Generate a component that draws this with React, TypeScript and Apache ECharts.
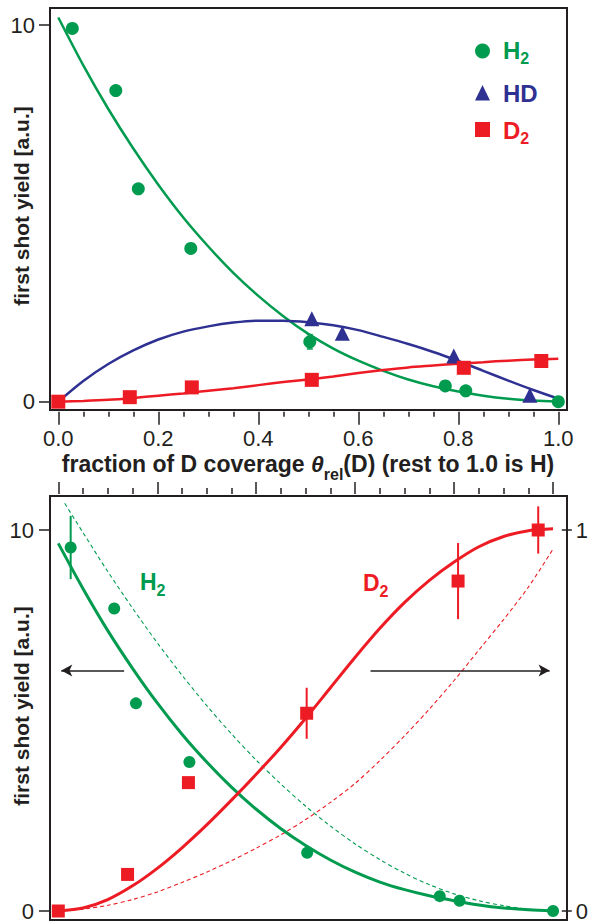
import React, { useEffect, useRef } from 'react';
import * as echarts from 'echarts';

const FONT = '"Liberation Sans", Arial, Helvetica, sans-serif';
const GREEN = '#009b4f';
const NAVY = '#2e3192';
const RED = '#ed1c24';
const INK = '#231f20';

// ---- shared x grid for fitted curves (fraction of D coverage) ----
const fitX = [0, 0.05, 0.1, 0.15, 0.2, 0.25, 0.3, 0.35, 0.4, 0.45, 0.5, 0.55, 0.6, 0.65, 0.7, 0.75, 0.8, 0.85, 0.9, 0.95, 1.0];

// ---- top panel: fitted curves ----
const h2FitTop = [10.2, 8.93, 7.77, 6.72, 5.76, 4.89, 4.12, 3.42, 2.81, 2.27, 1.8, 1.41, 1.09, 0.82, 0.59, 0.41, 0.27, 0.16, 0.08, 0.03, 0.0];
const hdFitTop = [0.0, 0.55, 1.0, 1.36, 1.65, 1.86, 2.0, 2.1, 2.15, 2.15, 2.11, 2.03, 1.9, 1.72, 1.53, 1.32, 1.08, 0.82, 0.56, 0.31, 0.08];
const d2FitTop = [0.0, 0.02, 0.05, 0.1, 0.16, 0.22, 0.29, 0.36, 0.44, 0.52, 0.59, 0.67, 0.76, 0.84, 0.91, 0.96, 1.01, 1.05, 1.09, 1.12, 1.14];

// ---- top panel: measured points ----
const h2TopX = [0.028, 0.115, 0.16, 0.265, 0.503, 0.774, 0.815, 1.0];
const h2TopY = [9.91, 8.26, 5.65, 4.07, 1.59, 0.42, 0.29, 0.0];
const h2TopErr = [0, 0, 0, 0, 0.19, 0, 0, 0];
const hdTopX = [0.507, 0.568, 0.791, 0.943];
const hdTopY = [2.2, 1.82, 1.21, 0.17];
const d2TopX = [0.0, 0.143, 0.267, 0.507, 0.811, 0.966];
const d2TopY = [0.0, 0.12, 0.38, 0.58, 0.9, 1.08];

// ---- bottom panel: curves (H2 on left axis 0..10, D2 on right axis 0..1) ----
const h2FitBot = [9.65, 8.46, 7.36, 6.37, 5.46, 4.64, 3.91, 3.25, 2.67, 2.16, 1.72, 1.34, 1.02, 0.76, 0.56, 0.4, 0.27, 0.16, 0.08, 0.03, 0.0];
const h2DashX = [0.013, 0.05, 0.1, 0.15, 0.2, 0.25, 0.3, 0.35, 0.4, 0.45, 0.5, 0.55, 0.6, 0.65, 0.7, 0.75, 0.8, 0.85, 0.9, 0.95, 1.0];
const h2DashY = [10.7, 9.93, 8.91, 7.95, 7.04, 6.19, 5.39, 4.65, 3.96, 3.33, 2.75, 2.23, 1.76, 1.35, 0.99, 0.69, 0.45, 0.27, 0.14, 0.05, 0.0];
const d2FitBot = [0.0, 0.008, 0.03, 0.066, 0.112, 0.166, 0.226, 0.291, 0.359, 0.43, 0.506, 0.586, 0.666, 0.742, 0.81, 0.868, 0.916, 0.956, 0.983, 0.998, 1.003];
const d2DashBot = [0.0, 0.005, 0.015, 0.03, 0.05, 0.075, 0.102, 0.132, 0.165, 0.2, 0.24, 0.285, 0.335, 0.395, 0.46, 0.53, 0.605, 0.685, 0.765, 0.85, 0.95];

// ---- bottom panel: measured points ----
const h2BotX = [0.025, 0.113, 0.157, 0.265, 0.503, 0.771, 0.811, 1.0];
const h2BotY = [9.54, 7.94, 5.45, 3.91, 1.53, 0.39, 0.27, 0.0];
const h2BotErr = [0.83, 0, 0, 0, 0, 0, 0, 0];
const d2BotX = [0.0, 0.14, 0.263, 0.502, 0.808, 0.97];
const d2BotY = [0.0, 0.096, 0.337, 0.519, 0.866, 1.0];
const d2BotErr = [0, 0, 0, 0.067, 0.1, 0.062];

// ---- axis tick labels ----
const xTickLabels = ['0.0', '0.2', '0.4', '0.6', '0.8', '1.0'];
const leftTickLabels = ['0', '10'];
const rightTickLabels = ['0', '1'];

// ---- arrows (annotation, data coordinates) ----
const leftArrow = [[0.133, 6.31], [0.006, 6.31]];
const rightArrow = [[0.631, 0.631], [0.993, 0.631]];

const pairs = (xs: number[], ys: number[]) => xs.map((x, i) => [x, ys[i]]);
const triples = (xs: number[], ys: number[], es: number[]) => xs.map((x, i) => [x, ys[i], es[i]]);

const errorBar = (color: string, width: number, cap: number) => (params: any, api: any) => {
  const x = api.value(0);
  const y = api.value(1);
  const e = api.value(2);
  if (!e) return { type: 'group', children: [] };
  const a = api.coord([x, y + e]);
  const b = api.coord([x, y - e]);
  const children: any[] = [
    { type: 'line', shape: { x1: a[0], y1: a[1], x2: b[0], y2: b[1] }, style: { stroke: color, lineWidth: width } },
  ];
  if (cap > 0) {
    children.push({ type: 'line', shape: { x1: a[0] - cap, y1: a[1], x2: a[0] + cap, y2: a[1] }, style: { stroke: color, lineWidth: width } });
    children.push({ type: 'line', shape: { x1: b[0] - cap, y1: b[1], x2: b[0] + cap, y2: b[1] }, style: { stroke: color, lineWidth: width } });
  }
  return { type: 'group', children };
};

const tickLine = { color: INK, width: 1.5 };
const labelStyle = { fontFamily: FONT, fontSize: 22, color: INK };

const fitLine = (data: any, color: string, width: number, xi: number, yi: number, dashed = false) => ({
  type: 'line',
  data,
  xAxisIndex: xi,
  yAxisIndex: yi,
  showSymbol: false,
  symbol: 'none',
  smooth: 0.3,
  clip: false,
  silent: true,
  lineStyle: { color, width, type: dashed ? [4, 3] : 'solid' },
  z: 2,
});

const scatter = (data: any, color: string, symbol: string, size: number, xi: number, yi: number) => ({
  type: 'scatter',
  data,
  xAxisIndex: xi,
  yAxisIndex: yi,
  symbol,
  symbolSize: size,
  clip: false,
  silent: true,
  itemStyle: { color, opacity: 1 },
  z: 4,
});

const errSeries = (data: any, color: string, width: number, cap: number, xi: number, yi: number) => ({
  type: 'custom',
  data,
  xAxisIndex: xi,
  yAxisIndex: yi,
  clip: false,
  silent: true,
  renderItem: errorBar(color, width, cap),
  z: 3,
});

const subText = (main: string, sub: string, color: string, size: number, subSize: number, lh: number) => ({
  text: `{m|${main}}{s|${sub}}`,
  rich: {
    m: { fontFamily: FONT, fontWeight: 'bold', fontSize: size, lineHeight: lh, fill: color, verticalAlign: 'middle' },
    s: { fontFamily: FONT, fontWeight: 'bold', fontSize: subSize, lineHeight: subSize, fill: color, verticalAlign: 'bottom' },
  },
});

const noLine = { show: false, onZero: false };

const option: any = {
  animation: false,
  backgroundColor: '#ffffff',
  grid: [
    { left: 58.3, top: 25, width: 500, height: 376.7 },
    { left: 58.3, top: 530, width: 500, height: 381 },
  ],
  xAxis: [
    {
      gridIndex: 0, type: 'value', min: 0, max: 1, interval: 0.2, position: 'bottom', offset: 10,
      axisLine: noLine,
      axisTick: { show: true, inside: false, length: 13, lineStyle: tickLine },
      minorTick: { show: true, splitNumber: 4, length: 5, lineStyle: tickLine },
      splitLine: { show: false },
      axisLabel: { ...labelStyle, margin: 16, formatter: (v: number) => xTickLabels[Math.round(v / 0.2)] },
    },
    {
      gridIndex: 1, type: 'value', min: 0, max: 1, interval: 0.2, position: 'top', offset: 36,
      axisLine: noLine,
      axisTick: { show: true, inside: false, length: 12, lineStyle: tickLine },
      minorTick: { show: true, splitNumber: 4, length: 6, lineStyle: tickLine },
      splitLine: { show: false },
      axisLabel: { show: false },
    },
  ],
  yAxis: [
    {
      gridIndex: 0, type: 'value', min: 0, max: 10, interval: 10, position: 'left', offset: 8.3,
      axisLine: noLine,
      axisTick: { show: true, length: 11, lineStyle: tickLine },
      splitLine: { show: false },
      axisLabel: { ...labelStyle, margin: 15, formatter: (v: number) => leftTickLabels[Math.round(v / 10)] },
    },
    {
      gridIndex: 1, type: 'value', min: 0, max: 10, interval: 10, position: 'left', offset: 8.3,
      axisLine: noLine,
      axisTick: { show: true, length: 11, lineStyle: tickLine },
      splitLine: { show: false },
      axisLabel: { ...labelStyle, margin: 16, formatter: (v: number) => leftTickLabels[Math.round(v / 10)] },
    },
    {
      gridIndex: 1, type: 'value', min: 0, max: 1, interval: 1, position: 'right', offset: 8.7,
      axisLine: noLine,
      axisTick: { show: true, length: 10, lineStyle: tickLine },
      splitLine: { show: false },
      axisLabel: { ...labelStyle, margin: 14, formatter: (v: number) => rightTickLabels[Math.round(v)] },
    },
  ],
  series: [
    // top panel
    fitLine(pairs(fitX, h2FitTop), GREEN, 2.5, 0, 0),
    fitLine(pairs(fitX, hdFitTop), NAVY, 2.5, 0, 0),
    fitLine(pairs(fitX, d2FitTop), RED, 2.5, 0, 0),
    errSeries(triples(h2TopX, h2TopY, h2TopErr), GREEN, 1.5, 3, 0, 0),
    scatter(pairs(h2TopX, h2TopY), GREEN, 'circle', 13, 0, 0),
    scatter(pairs(hdTopX, hdTopY), NAVY, 'triangle', 15, 0, 0),
    scatter(pairs(d2TopX, d2TopY), RED, 'rect', 14, 0, 0),
    // bottom panel
    fitLine(pairs(h2DashX, h2DashY), GREEN, 1.1, 1, 1, true),
    fitLine(pairs(fitX, d2DashBot), RED, 1.1, 1, 2, true),
    {
      ...fitLine(pairs(fitX, h2FitBot), GREEN, 3, 1, 1),
      markLine: {
        silent: true,
        symbol: ['none', 'arrow'],
        symbolSize: [9, 11],
        label: { show: false },
        lineStyle: { color: INK, width: 1.5, type: 'solid' },
        data: [[{ coord: leftArrow[0] }, { coord: leftArrow[1] }]],
      },
    },
    {
      ...fitLine(pairs(fitX, d2FitBot), RED, 3, 1, 2),
      markLine: {
        silent: true,
        symbol: ['none', 'arrow'],
        symbolSize: [9, 11],
        label: { show: false },
        lineStyle: { color: INK, width: 1.5, type: 'solid' },
        data: [[{ coord: rightArrow[0] }, { coord: rightArrow[1] }]],
      },
    },
    errSeries(triples(h2BotX, h2BotY, h2BotErr), GREEN, 2, 0, 1, 1),
    errSeries(triples(d2BotX, d2BotY, d2BotErr), RED, 2, 0, 1, 2),
    scatter(pairs(h2BotX, h2BotY), GREEN, 'circle', 12, 1, 1),
    scatter(pairs(d2BotX, d2BotY), RED, 'rect', 13, 1, 2),
  ],
  graphic: [
    // frames
    { type: 'rect', shape: { x: 50, y: 8, width: 517, height: 402 }, style: { fill: 'none', stroke: INK, lineWidth: 2 }, z: 1, silent: true },
    { type: 'rect', shape: { x: 50, y: 496, width: 517, height: 424 }, style: { fill: 'none', stroke: INK, lineWidth: 2 }, z: 1, silent: true },
    // y titles
    {
      type: 'text', x: 21, y: 206, rotation: Math.PI / 2, silent: true,
      style: { text: 'first shot yield [a.u.]', fontFamily: FONT, fontWeight: 'bold', fontSize: 21, fill: INK, align: 'center', verticalAlign: 'middle' },
    },
    {
      type: 'text', x: 21, y: 706, rotation: Math.PI / 2, silent: true,
      style: { text: 'first shot yield [a.u.]', fontFamily: FONT, fontWeight: 'bold', fontSize: 21, fill: INK, align: 'center', verticalAlign: 'middle' },
    },
    // x title
    {
      type: 'text', x: 308, y: 464, silent: true,
      style: {
        text: '{a|fraction of D coverage }{t|θ}{s|rel}{a|(D) (rest to 1.0 is H)}',
        align: 'center', verticalAlign: 'middle',
        rich: {
          a: { fontFamily: FONT, fontWeight: 'bold', fontSize: 23, lineHeight: 36, fill: INK, verticalAlign: 'middle' },
          t: { fontFamily: FONT, fontWeight: 'bold', fontStyle: 'italic', fontSize: 23, lineHeight: 36, fill: INK, verticalAlign: 'middle' },
          s: { fontFamily: FONT, fontWeight: 'bold', fontSize: 16, lineHeight: 16, fill: INK, verticalAlign: 'bottom' },
        },
      },
    },
    // legend (top panel)
    { type: 'circle', shape: { cx: 482.5, cy: 51, r: 7.5 }, style: { fill: GREEN }, silent: true },
    { type: 'polygon', shape: { points: [[482.5, 85], [475, 100.5], [490, 100.5]] }, style: { fill: NAVY }, silent: true },
    { type: 'rect', shape: { x: 475, y: 122, width: 15, height: 15 }, style: { fill: RED }, silent: true },
    { type: 'text', x: 503, y: 50, silent: true, style: { ...subText('H', '2', GREEN, 24, 16, 32), align: 'left', verticalAlign: 'middle' } },
    { type: 'text', x: 503, y: 93, silent: true, style: { text: 'HD', fontFamily: FONT, fontWeight: 'bold', fontSize: 24, fill: NAVY, align: 'left', verticalAlign: 'middle' } },
    { type: 'text', x: 503, y: 130, silent: true, style: { ...subText('D', '2', RED, 24, 16, 32), align: 'left', verticalAlign: 'middle' } },
    // bottom panel annotations
    { type: 'text', x: 140, y: 582, silent: true, style: { ...subText('H', '2', GREEN, 23, 16, 32), align: 'left', verticalAlign: 'middle' } },
    { type: 'text', x: 363, y: 583, silent: true, style: { ...subText('D', '2', RED, 23, 16, 32), align: 'left', verticalAlign: 'middle' } },
  ],
};

export default function App() {
  const ref = useRef<HTMLDivElement>(null);
  useEffect(() => {
    if (!ref.current) return;
    const chart = echarts.init(ref.current, null, { renderer: 'svg' });
    chart.setOption(option);
    return () => chart.dispose();
  }, []);
  return (
    <div
      ref={ref}
      style={{ position: 'fixed', left: 0, top: 0, width: 591, height: 922, background: '#ffffff' }}
    />
  );
}
